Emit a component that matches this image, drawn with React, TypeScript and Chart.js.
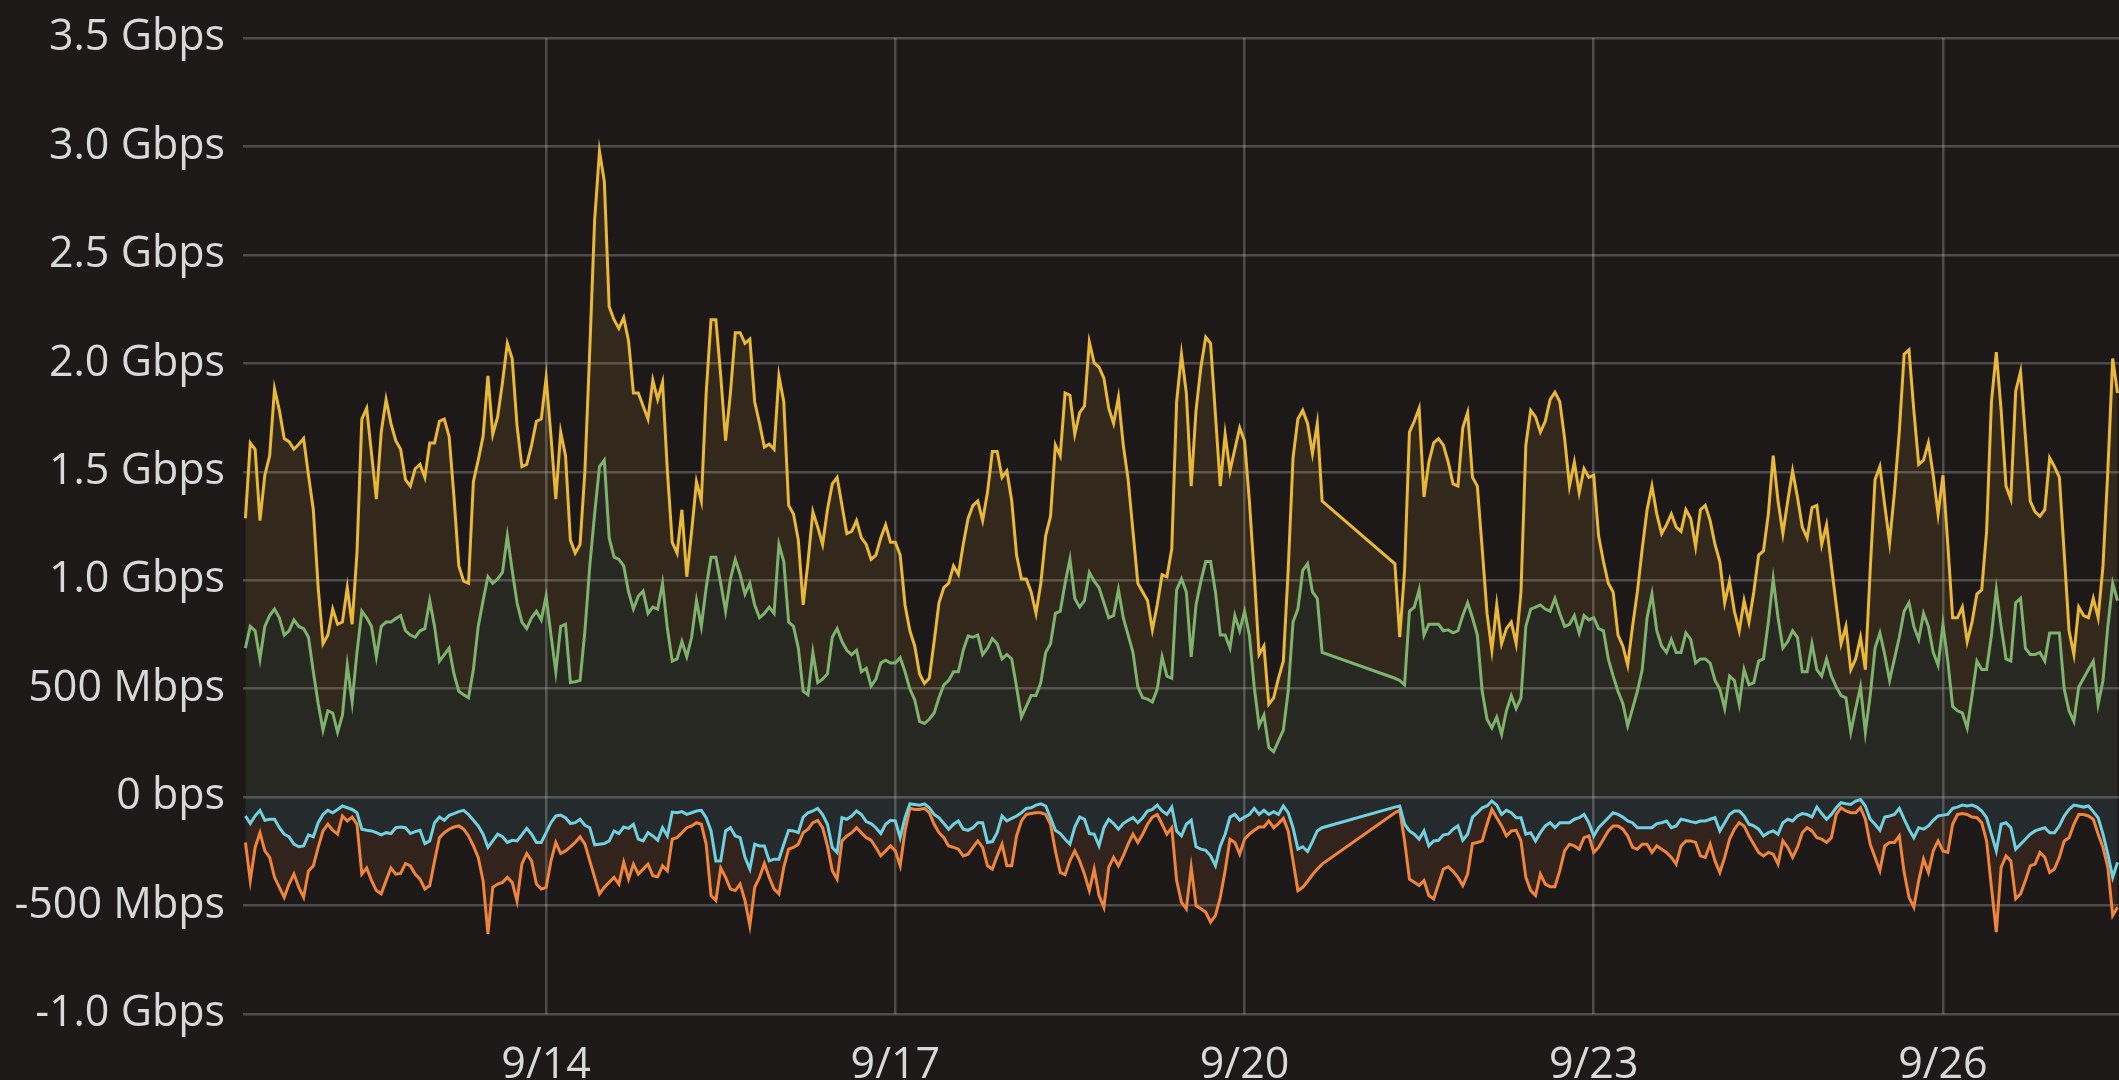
import React, { useEffect, useRef } from 'react';
import { Chart, registerables } from 'chart.js';

Chart.register(...registerables);

// Hours relative to 9/14 00:00 (data gap between 160 and 175)
const times = [
  -62,-61,-60,-59,-58,-57,-56,-55,-54,-53,
  -52,-51,-50,-49,-48,-47,-46,-45,-44,-43,
  -42,-41,-40,-39,-38,-37,-36,-35,-34,-33,
  -32,-31,-30,-29,-28,-27,-26,-25,-24,-23,
  -22,-21,-20,-19,-18,-17,-16,-15,-14,-13,
  -12,-11,-10,-9,-8,-7,-6,-5,-4,-3,
  -2,-1,0,1,2,3,4,5,6,7,
  8,9,10,11,12,13,14,15,16,17,
  18,19,20,21,22,23,24,25,26,27,
  28,29,30,31,32,33,34,35,36,37,
  38,39,40,41,42,43,44,45,46,47,
  48,49,50,51,52,53,54,55,56,57,
  58,59,60,61,62,63,64,65,66,67,
  68,69,70,71,72,73,74,75,76,77,
  78,79,80,81,82,83,84,85,86,87,
  88,89,90,91,92,93,94,95,96,97,
  98,99,100,101,102,103,104,105,106,107,
  108,109,110,111,112,113,114,115,116,117,
  118,119,120,121,122,123,124,125,126,127,
  128,129,130,131,132,133,134,135,136,137,
  138,139,140,141,142,143,144,145,146,147,
  148,149,150,151,152,153,154,155,156,157,
  158,159,160,
  175,176,177,178,179,180,181,182,183,184,
  185,186,187,188,189,190,191,192,193,194,
  195,196,197,198,199,200,201,202,203,204,
  205,206,207,208,209,210,211,212,213,214,
  215,216,217,218,219,220,221,222,223,224,
  225,226,227,228,229,230,231,232,233,234,
  235,236,237,238,239,240,241,242,243,244,
  245,246,247,248,249,250,251,252,253,254,
  255,256,257,258,259,260,261,262,263,264,
  265,266,267,268,269,270,271,272,273,274,
  275,276,277,278,279,280,281,282,283,284,
  285,286,287,288,289,290,291,292,293,294,
  295,296,297,298,299,300,301,302,303,304,
  305,306,307,308,309,310,311,312,313,314,
  315,316,317,318,319,320,321,322,323,324,
];

// Values in Mbps
const inTotal = [
  1285,1633,1604,1275,1484,1574,1882,1783,1653,1639,
  1604,1627,1653,1484,1325,966,707,747,867,797,
  807,966,797,1125,1743,1793,1584,1374,1683,1833,
  1723,1643,1604,1464,1434,1514,1534,1474,1633,1633,
  1733,1743,1663,1384,1066,996,986,1454,1554,1663,
  1942,1673,1753,1912,2092,2022,1713,1524,1534,1623,
  1733,1743,1932,1663,1374,1683,1574,1185,1125,1165,
  1504,2062,2659,2978,2839,2261,2201,2161,2211,2102,
  1863,1863,1803,1743,1922,1833,1912,1504,1175,1125,
  1325,1016,1225,1454,1365,1863,2201,2201,1942,1643,
  1863,2141,2141,2092,2112,1823,1723,1614,1627,1604,
  1942,1823,1345,1305,1185,886,1086,1315,1245,1165,
  1325,1444,1474,1345,1215,1225,1275,1195,1165,1096,
  1116,1195,1255,1175,1175,1116,886,767,697,568,
  524,548,717,896,966,986,1066,1026,1165,1285,
  1345,1365,1275,1404,1594,1594,1474,1504,1365,1116,
  1006,1006,946,847,986,1205,1295,1623,1574,1863,
  1853,1673,1773,1803,2098,2002,1982,1932,1793,1723,
  1843,1623,1464,1225,986,946,906,771,886,1026,
  1016,1145,1823,2042,1863,1434,1783,1982,2121,2092,
  1763,1434,1673,1504,1604,1703,1643,1365,1026,657,
  697,428,458,548,627,1046,1564,1743,1783,1723,
  1584,1723,1365,
  1076,737,1046,1683,1733,1793,1384,1544,1633,1653,
  1623,1544,1444,1434,1703,1773,1474,1434,1145,847,
  677,886,707,777,807,707,946,1623,1783,1753,
  1683,1733,1833,1867,1823,1653,1434,1544,1404,1514,
  1474,1484,1205,1086,986,946,747,697,608,787,
  946,1145,1325,1434,1305,1215,1255,1305,1245,1225,
  1325,1285,1155,1325,1345,1275,1165,1086,896,996,
  857,767,906,807,946,1116,1135,1305,1574,1365,
  1215,1365,1504,1384,1245,1195,1335,1345,1165,1255,
  1066,886,707,787,588,637,737,588,1046,1464,
  1524,1345,1175,1404,1683,2042,2062,1783,1534,1554,
  1633,1484,1305,1484,1165,827,827,876,717,807,
  936,956,1225,1823,2052,1783,1434,1374,1872,1962,
  1663,1365,1315,1295,1325,1564,1524,1474,1125,767,
  657,876,837,827,916,827,1066,1504,2022,1863,
];

const inAvg = [
  687,787,767,637,787,837,867,827,747,767,
  817,787,777,737,578,432,309,398,388,299,
  378,608,438,667,857,827,787,647,787,807,
  807,823,837,767,747,737,767,777,906,787,
  627,657,687,568,488,472,458,588,787,906,
  1016,986,1006,1036,1205,1046,896,807,777,827,
  857,817,926,747,578,787,797,528,532,538,
  767,1066,1305,1524,1554,1195,1106,1096,1066,946,
  867,926,950,847,876,867,986,777,627,637,
  717,647,737,906,787,966,1106,1106,986,857,
  1006,1096,1026,936,986,886,827,847,876,847,
  1165,1086,807,787,687,488,472,667,528,544,
  568,737,777,717,677,657,677,578,594,512,
  544,618,631,618,618,643,578,498,448,349,
  339,359,388,458,518,538,578,578,677,743,
  737,747,657,687,731,707,637,657,637,508,
  369,418,468,468,528,667,707,847,857,986,
  1096,916,876,906,1036,996,966,896,827,837,
  956,827,747,667,508,458,452,438,498,647,
  558,548,956,1006,946,647,886,996,1086,1086,
  946,747,747,687,837,767,857,747,508,329,
  378,229,209,259,309,488,807,867,1046,1076,
  946,916,667,
  548,538,518,857,876,956,747,797,797,797,
  767,771,757,767,837,896,827,747,488,359,
  319,369,289,398,468,408,458,787,867,876,
  886,867,857,916,847,787,797,837,757,837,
  817,827,777,767,637,558,488,432,329,408,
  488,588,827,936,767,697,667,727,667,667,
  757,727,618,637,637,618,538,498,408,558,
  538,428,588,518,528,627,637,807,1006,827,
  687,717,767,737,578,578,707,588,558,637,
  558,508,468,458,299,408,508,299,468,687,
  757,657,538,637,737,857,896,787,727,847,
  787,667,608,797,627,418,398,388,319,468,
  627,588,588,747,956,787,637,627,896,916,
  687,657,657,667,627,757,757,757,498,398,
  349,508,548,588,627,428,538,787,986,906,
];

const outAvg = [
  -87,-122,-87,-61,-107,-102,-102,-141,-171,-183,
  -217,-229,-225,-174,-183,-118,-80,-61,-72,-57,
  -41,-49,-57,-72,-148,-153,-156,-164,-174,-164,
  -168,-141,-138,-141,-168,-159,-153,-214,-202,-118,
  -92,-107,-84,-76,-67,-61,-80,-107,-133,-171,
  -232,-202,-171,-183,-209,-199,-202,-174,-144,-171,
  -209,-209,-164,-118,-87,-83,-95,-122,-118,-102,
  -130,-141,-220,-217,-214,-202,-156,-168,-138,-144,
  -125,-194,-202,-164,-179,-199,-141,-179,-69,-72,
  -67,-80,-72,-64,-61,-95,-156,-294,-294,-156,
  -141,-179,-187,-278,-332,-217,-225,-225,-294,-286,
  -286,-217,-153,-156,-164,-92,-72,-64,-52,-80,
  -125,-232,-255,-95,-102,-87,-64,-80,-113,-122,
  -141,-168,-125,-107,-110,-187,-95,-31,-34,-37,
  -31,-49,-80,-95,-122,-148,-125,-110,-148,-153,
  -141,-118,-118,-209,-205,-164,-87,-110,-98,-87,
  -72,-52,-49,-37,-31,-41,-95,-153,-168,-194,
  -217,-138,-92,-102,-168,-171,-225,-141,-102,-122,
  -148,-122,-107,-95,-118,-95,-64,-57,-37,-64,
  -80,-46,-156,-179,-125,-107,-229,-240,-245,-271,
  -316,-225,-171,-92,-80,-107,-92,-80,-52,-80,
  -61,-80,-67,-80,-41,-72,-141,-240,-229,-251,
  -205,-156,-141,
  -46,-41,-125,-156,-171,-194,-156,-225,-202,-199,
  -174,-171,-148,-133,-199,-171,-92,-72,-49,-41,
  -18,-37,-80,-61,-72,-95,-95,-171,-164,-202,
  -164,-133,-118,-141,-118,-118,-118,-102,-95,-80,
  -118,-179,-141,-118,-95,-72,-80,-92,-110,-118,
  -141,-141,-141,-141,-122,-118,-110,-141,-133,-102,
  -107,-113,-118,-110,-110,-102,-95,-156,-118,-80,
  -64,-64,-87,-125,-133,-148,-179,-164,-156,-171,
  -118,-102,-110,-87,-76,-80,-92,-46,-76,-102,
  -80,-49,-26,-31,-34,-18,-11,-41,-102,-125,
  -153,-92,-87,-80,-52,-102,-148,-187,-141,-148,
  -133,-107,-87,-83,-80,-52,-46,-37,-41,-37,
  -46,-64,-95,-171,-248,-125,-118,-141,-240,-217,
  -194,-171,-156,-148,-141,-164,-164,-133,-87,-57,
  -37,-41,-46,-41,-67,-95,-171,-263,-370,-301,
];

const outTotal = [
  -209,-385,-232,-164,-248,-278,-370,-416,-462,-401,
  -355,-416,-462,-340,-317,-232,-156,-125,-153,-171,
  -87,-110,-92,-125,-355,-327,-385,-431,-446,-385,
  -327,-355,-352,-306,-317,-355,-378,-424,-408,-294,
  -187,-164,-148,-138,-133,-148,-179,-225,-278,-385,
  -630,-416,-401,-393,-370,-393,-480,-309,-260,-294,
  -401,-424,-416,-294,-209,-260,-248,-229,-209,-183,
  -217,-294,-370,-446,-416,-393,-370,-401,-301,-378,
  -309,-355,-332,-309,-362,-367,-317,-340,-194,-187,
  -164,-141,-133,-118,-125,-217,-454,-477,-327,-370,
  -424,-431,-401,-477,-592,-416,-370,-306,-370,-424,
  -446,-324,-240,-232,-217,-164,-148,-118,-107,-141,
  -225,-339,-378,-202,-179,-164,-141,-164,-187,-199,
  -232,-271,-248,-225,-248,-317,-156,-52,-57,-57,
  -52,-72,-125,-164,-187,-225,-232,-240,-271,-263,
  -232,-202,-232,-317,-332,-271,-217,-317,-317,-179,
  -110,-80,-76,-72,-72,-80,-125,-248,-347,-358,
  -294,-248,-294,-355,-431,-332,-454,-508,-324,-278,
  -317,-271,-217,-171,-209,-171,-125,-92,-80,-125,
  -171,-141,-385,-485,-515,-324,-500,-515,-531,-576,
  -546,-462,-339,-194,-209,-263,-194,-171,-153,-138,
  -138,-110,-141,-122,-98,-156,-294,-431,-416,-388,
  -358,-332,-309,
  -72,-61,-202,-378,-393,-408,-385,-454,-469,-401,
  -332,-321,-342,-370,-408,-355,-214,-209,-202,-125,
  -57,-95,-133,-179,-156,-153,-202,-370,-431,-454,
  -355,-401,-413,-413,-339,-248,-217,-225,-240,-187,
  -179,-255,-232,-194,-156,-133,-133,-148,-179,-232,
  -240,-217,-217,-255,-225,-240,-255,-278,-309,-225,
  -202,-202,-209,-271,-278,-217,-294,-347,-278,-194,
  -148,-118,-133,-179,-217,-255,-271,-255,-263,-309,
  -202,-232,-278,-232,-164,-141,-156,-187,-194,-209,
  -187,-80,-49,-64,-72,-72,-49,-102,-217,-278,
  -339,-225,-209,-209,-179,-347,-462,-508,-385,-286,
  -347,-248,-202,-248,-255,-125,-80,-76,-80,-92,
  -95,-118,-202,-416,-622,-324,-271,-294,-469,-446,
  -385,-317,-309,-255,-278,-347,-332,-278,-202,-187,
  -125,-80,-80,-87,-102,-171,-232,-324,-546,-508,
];

const xTickHours = [0, 72, 144, 216, 288];
const xTickLabels = ['9/14', '9/17', '9/20', '9/23', '9/26'];

const BG = '#1d1919';
const TEXT = '#d8d9da';
const GRID = 'rgba(255,255,255,0.22)';

function fmtBps(v: number): string {
  if (v === 0) return '0 bps';
  if (Math.abs(v) < 1000) return `${v} Mbps`;
  return `${(v / 1000).toFixed(1)} Gbps`;
}

export default function App() {
  const ref = useRef<HTMLCanvasElement>(null);

  useEffect(() => {
    document.body.style.margin = '0';
    document.body.style.background = BG;
    document.body.style.overflow = 'hidden';
    const canvas = ref.current;
    if (!canvas) return;
    const pts = (vals: number[]) => times.map((t, i) => ({ x: t, y: vals[i] }));
    const font = { family: "'Open Sans', sans-serif", size: 43 };

    const mkSet = (label: string, vals: number[], color: string, fill: string, target: any) => ({
      label,
      data: pts(vals),
      borderColor: color,
      backgroundColor: fill,
      borderWidth: 3,
      fill: target,
      pointRadius: 0,
      tension: 0,
    });

    const chart = new Chart(canvas, {
      type: 'line',
      data: {
        datasets: [
          mkSet('Outbound', outAvg, '#6ED0E0', 'rgba(110,208,224,0.1)', 'origin'),
          mkSet('Outbound total', outTotal, '#EF843C', 'rgba(239,132,60,0.1)', 0),
          mkSet('Inbound', inAvg, '#7EB26D', 'rgba(126,178,109,0.1)', 'origin'),
          mkSet('Inbound total', inTotal, '#EAB839', 'rgba(234,184,57,0.1)', 2),
        ] as any,
      },
      options: {
        animation: false,
        responsive: false,
        maintainAspectRatio: false,
        layout: { padding: { top: 38, left: 0, right: 0, bottom: 0 } },
        plugins: { legend: { display: false }, tooltip: { enabled: false } },
        scales: {
          x: {
            type: 'linear',
            min: -62.5,
            max: 324.3,
            afterBuildTicks: (s: any) => {
              s.ticks = xTickHours.map((v) => ({ value: v }));
            },
            afterFit: (s: any) => {
              s.height = 66;
              s.paddingLeft = 0;
              s.paddingRight = 0;
            },
            grid: { color: GRID, lineWidth: 2.5, drawTicks: false },
            border: { display: false },
            ticks: {
              autoSkip: false,
              maxRotation: 0,
              padding: 26,
              color: TEXT,
              font,
              callback: (v: any) => {
                const i = xTickHours.indexOf(Number(v));
                return i >= 0 ? xTickLabels[i] : '';
              },
            },
          },
          y: {
            min: -1000,
            max: 3500,
            afterFit: (s: any) => {
              s.width = 243;
              s.paddingTop = 0;
              s.paddingBottom = 0;
            },
            grid: { color: GRID, lineWidth: 2.5, drawTicks: false },
            border: { display: false },
            ticks: {
              stepSize: 500,
              padding: 18,
              color: TEXT,
              font,
              callback: (v: any) => fmtBps(Number(v)),
            },
          },
        },
      } as any,
    });
    return () => chart.destroy();
  }, []);

  return (
    <div style={{ width: 2119, height: 1080, background: BG, overflow: 'hidden' }}>
      <canvas ref={ref} width={2119} height={1080} style={{ display: 'block' }} />
    </div>
  );
}
